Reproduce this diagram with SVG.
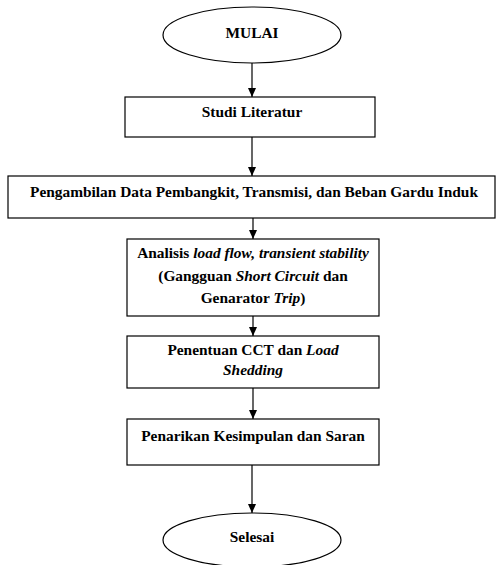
<svg xmlns="http://www.w3.org/2000/svg" width="496" height="565" viewBox="0 0 496 565">
<defs>
<style>
.s{fill:#fff;stroke:#000;stroke-width:1.2}
.t{font-family:'Liberation Serif','Times New Roman','DejaVu Serif',serif;font-weight:bold;font-size:15.4px;fill:#000;text-anchor:middle}
.c{stroke:#000;stroke-width:1.2;fill:none}
</style>
<marker id="a" markerWidth="10" markerHeight="10" refX="9" refY="5" orient="auto" markerUnits="userSpaceOnUse">
<path d="M0,1 L9,5 L0,9 z" fill="#000"/>
</marker>
</defs>
<rect width="496" height="565" fill="#fff"/>
<g id="connectors">
<line class="c" x1="252" y1="63" x2="252" y2="97" marker-end="url(#a)"/>
<line class="c" x1="252" y1="137" x2="252" y2="176" marker-end="url(#a)"/>
<line class="c" x1="253" y1="218" x2="253" y2="239" marker-end="url(#a)"/>
<line class="c" x1="253" y1="316" x2="253" y2="336" marker-end="url(#a)"/>
<line class="c" x1="253" y1="388" x2="253" y2="419" marker-end="url(#a)"/>
<line class="c" x1="252" y1="465" x2="252" y2="513" marker-end="url(#a)"/>
</g>
<g id="mulai">
<ellipse class="s" cx="252" cy="35" rx="89" ry="28"/>
<text class="t" x="252" y="38">MULAI</text>
</g>
<g id="studi">
<rect class="s" x="125" y="97" width="250" height="40"/>
<text class="t" x="252" y="117">Studi Literatur</text>
</g>
<g id="pengambilan">
<rect class="s" x="8" y="176" width="487" height="42"/>
<text class="t" x="254" y="197">Pengambilan Data Pembangkit, Transmisi, dan Beban Gardu Induk</text>
</g>
<g id="analisis">
<rect class="s" x="127" y="239" width="252" height="77"/>
<text class="t" x="253" y="258">Analisis <tspan font-style="italic">load flow, transient stability</tspan></text>
<text class="t" x="253" y="281">(Gangguan <tspan font-style="italic">Short Circuit</tspan> dan</text>
<text class="t" x="253" y="303">Genarator <tspan font-style="italic">Trip</tspan>)</text>
</g>
<g id="penentuan">
<rect class="s" x="127" y="336" width="252" height="52"/>
<text class="t" x="253" y="355">Penentuan CCT dan <tspan font-style="italic">Load</tspan></text>
<text class="t" x="253" y="375" font-style="italic">Shedding</text>
</g>
<g id="penarikan">
<rect class="s" x="127" y="419" width="252" height="46"/>
<text class="t" x="253" y="441">Penarikan Kesimpulan dan Saran</text>
</g>
<g id="selesai">
<ellipse class="s" cx="252" cy="540" rx="89" ry="27"/>
<text class="t" x="252" y="542">Selesai</text>
</g>
</svg>
